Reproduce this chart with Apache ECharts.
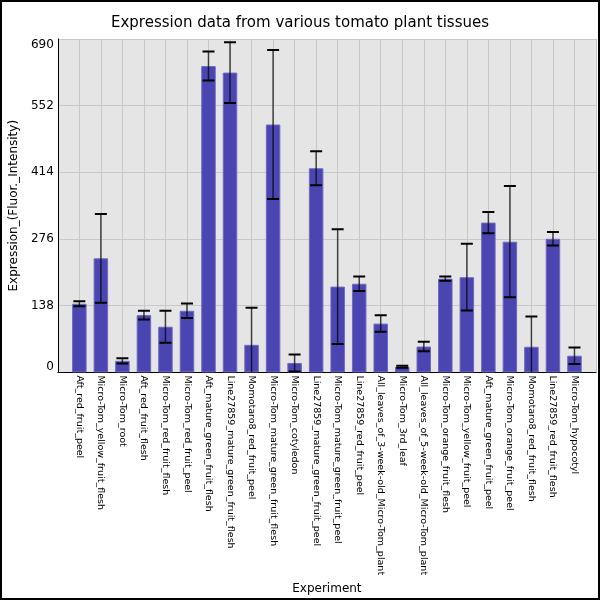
<!DOCTYPE html>
<html lang="en">

<head>
    <meta charset="utf-8">
    <title>index</title>
    <style>
        html, body { margin: 0; padding: 0; background: #fff; }
    </style>
</head>

<body>
    <div id="main" style="width: 600px;height:600px;"></div>
    <script src="https://cdn.jsdelivr.net/npm/echarts@6/dist/echarts.min.js"></script>

    <script>
        // 组织/实验名称
        var categories = [
            'Aft_red_fruit_peel', 'Micro-Tom_yellow_fruit_flesh', 'Micro-Tom_root',
            'Aft_red_fruit_flesh', 'Micro-Tom_red_fruit_flesh', 'Micro-Tom_red_fruit_peel',
            'Aft_mature_green_fruit_flesh', 'Line27859_mature_green_fruit_flesh',
            'Momotaro8_red_fruit_peel', 'Micro-Tom_mature_green_fruit_flesh',
            'Micro-Tom_cotyledon', 'Line27859_mature_green_fruit_peel',
            'Micro-Tom_mature_green_fruit_peel', 'Line27859_red_fruit_peel',
            'All_leaves_of_3-week-old_Micro-Tom_plant', 'Micro-Tom_3rd_leaf',
            'All_leaves_of_5-week-old_Micro-Tom_plant', 'Micro-Tom_orange_fruit_flesh',
            'Micro-Tom_yellow_fruit_peel', 'Aft_mature_green_fruit_peel',
            'Micro-Tom_orange_fruit_peel', 'Momotaro8_red_fruit_flesh',
            'Line27859_red_fruit_flesh', 'Micro-Tom_hypocotyl'
        ];
        // 平均值
        var means = [142, 236, 24, 118.5, 94.5, 127.5, 634, 620.5, 57, 513, 19.5, 422.5,
            177.5, 183.5, 101, 11.5, 53.5, 194, 197, 310, 270.5, 53, 276.5, 34.5];
        // 误差（标准差）
        var errors = [5, 92, 5.5, 9, 33, 15, 30, 63, 77, 154, 17.5, 35,
            118.5, 15, 17, 2, 10, 4.5, 69, 22, 115, 62.5, 14, 17];
        // y轴刻度
        var yTicks = [0, 138, 276, 414, 552, 690];

        var myChart = echarts.init(document.getElementById('main'));

        // 两端留空的类目
        var axisData = [''].concat(categories, ['']);
        var barData = ['-'].concat(means, ['-']);
        var errData = categories.map(function (c, i) {
            return [i + 1, means[i] - errors[i], means[i] + errors[i]];
        });

        var option = {
            backgroundColor: '#fff',
            animation: false,
            textStyle: { fontFamily: 'DejaVu Sans' },
            title: {
                text: 'Expression data from various tomato plant tissues',
                left: 'center',
                top: 11,
                textStyle: { fontSize: 15, fontWeight: 'normal', color: '#000', fontFamily: 'DejaVu Sans' }
            },
            graphic: [{
                type: 'rect',
                shape: { x: 1, y: 1, width: 598, height: 598 },
                style: { fill: 'none', stroke: '#000', lineWidth: 2 },
                silent: true
            }],
            grid: {
                left: 57, right: 4, top: 39, bottom: 227,
                show: true, backgroundColor: '#e5e5e5', borderWidth: 0
            },
            xAxis: {
                type: 'category',
                data: axisData,
                boundaryGap: false,
                name: 'Experiment',
                nameLocation: 'middle',
                nameGap: 206,
                nameTextStyle: { fontSize: 12, color: '#000', verticalAlign: 'top' },
                axisLine: { lineStyle: { color: '#000', width: 1 } },
                axisTick: { show: false },
                axisLabel: {
                    interval: 0, rotate: -90, fontSize: 9.5, color: '#000', margin: 3
                },
                splitLine: { show: true, interval: 0, lineStyle: { color: '#c8c8c8', width: 1 } }
            },
            yAxis: {
                type: 'value',
                min: yTicks[0],
                max: yTicks[yTicks.length - 1],
                interval: yTicks[1] - yTicks[0],
                name: 'Expression_(Fluor._Intensity)',
                nameLocation: 'middle',
                nameGap: 27,
                nameTextStyle: { fontSize: 12, color: '#000' },
                axisLine: { show: true, lineStyle: { color: '#000', width: 1 } },
                axisTick: { show: false },
                axisLabel: {
                    fontSize: 12, color: '#000', margin: 4,
                    verticalAlignMinLabel: 'bottom', verticalAlignMaxLabel: 'top'
                },
                splitLine: { show: true, lineStyle: { color: '#c8c8c8', width: 1 } }
            },
            series: [
                {
                    type: 'bar',
                    data: barData,
                    barWidth: 14.5,
                    itemStyle: { color: '#4a45b1', borderColor: '#6e69c2', borderWidth: 1 }
                },
                {
                    type: 'custom',
                    data: errData,
                    clip: true,
                    z: 5,
                    renderItem: function (params, api) {
                        var x = api.value(0);
                        var lo = api.value(1);
                        var hi = api.value(2);
                        var top = api.coord([x, hi]);
                        var bot = api.coord([x, Math.max(lo, 0)]);
                        var half = 6;
                        var children = [{
                            type: 'line',
                            shape: { x1: top[0], y1: top[1], x2: bot[0], y2: bot[1] },
                            style: { stroke: 'rgba(0,0,0,0.7)', lineWidth: 1.5 }
                        }, {
                            type: 'line',
                            shape: { x1: top[0] - half, y1: top[1], x2: top[0] + half, y2: top[1] },
                            style: { stroke: '#000', lineWidth: 2 }
                        }];
                        if (lo >= 0) {
                            children.push({
                                type: 'line',
                                shape: { x1: bot[0] - half, y1: bot[1], x2: bot[0] + half, y2: bot[1] },
                                style: { stroke: '#000', lineWidth: 2 }
                            });
                        }
                        return { type: 'group', children: children };
                    }
                }
            ]
        };

        myChart.setOption(option);
    </script>
</body>

</html>
